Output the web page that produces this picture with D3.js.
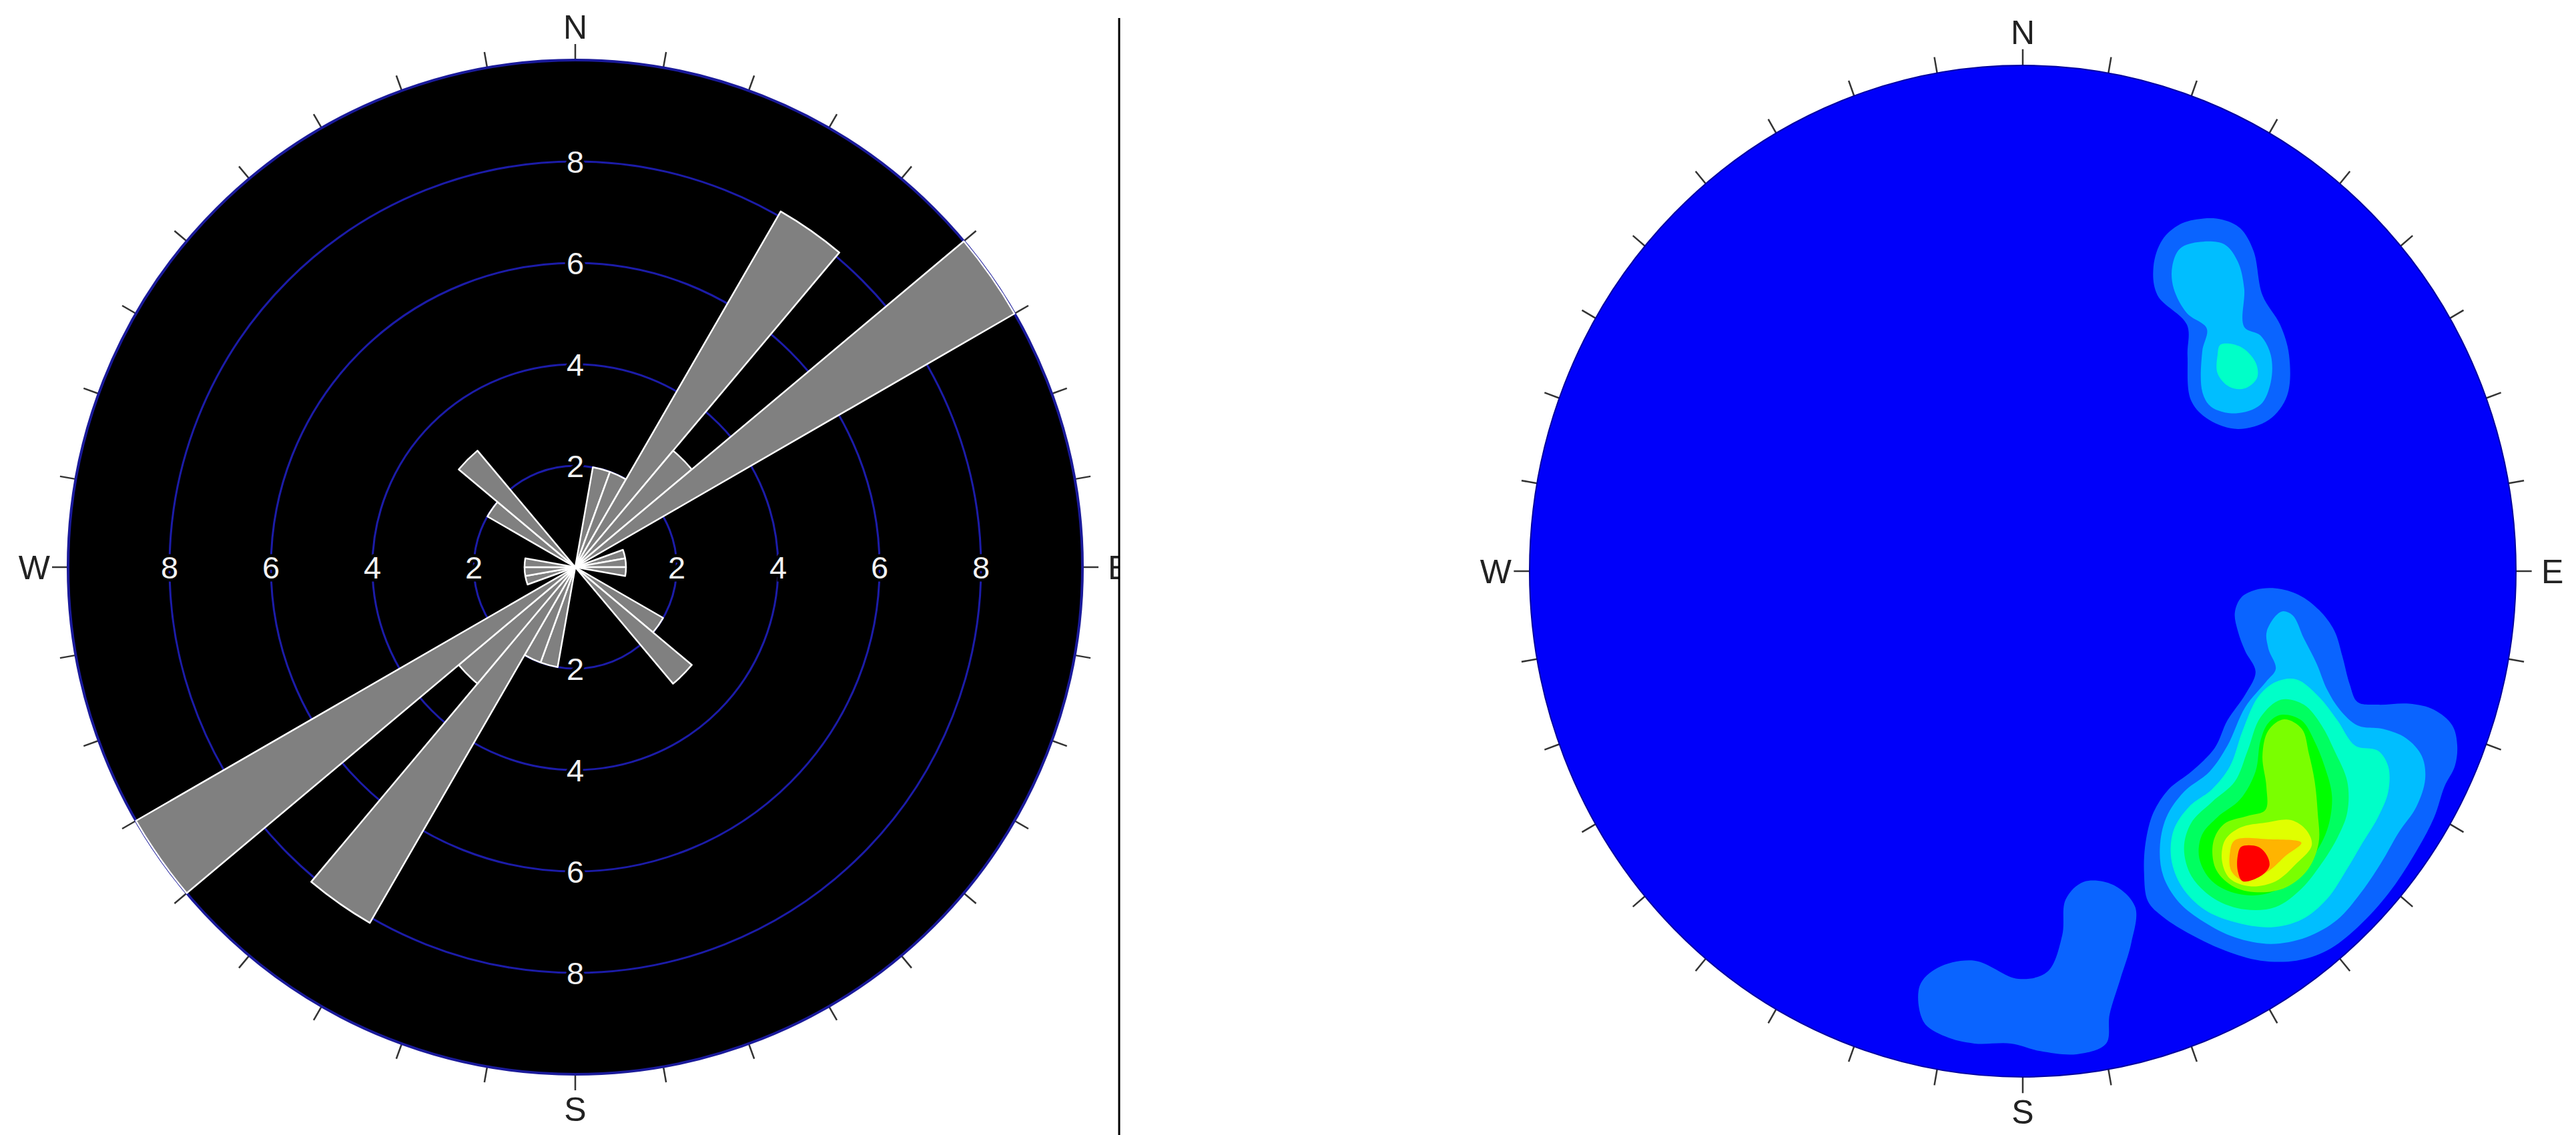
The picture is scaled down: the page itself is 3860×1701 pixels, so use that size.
<!DOCTYPE html>
<html lang="en">
<head>
    <meta charset="UTF-8">
    <title>Rose diagram and pole density</title>
    <script src="https://cdn.jsdelivr.net/npm/d3@7/dist/d3.min.js" type="text/javascript"></script>
    <style>
        body { margin: 0; background: #fff; }
        text { font-family: "Liberation Sans", Arial, sans-serif; }
    </style>
</head>
<body>
<svg id="chart" width="3860" height="1701"></svg>
<script>
    // rose diagram: 10 degree bins, mirrored to the opposite side
    var binStart = [0, 10, 20, 30, 40, 50, 60, 70, 80, 90, 100, 110, 120, 130, 140, 150, 160, 170];
    var binCount = [0, 2, 2, 8.1, 3, 10, 0, 1, 1, 1, 0, 0, 2, 3, 0, 0, 0, 0];
    var ringValues = [2, 4, 6, 8];
    var compassLabels = ["N", "E", "S", "W"];

    // pole density contours, stereonet units (x east, y north, radius 1)
    var densityColors = ["#0A64FF", "#00BEFF", "#00FFC8", "#00FF60", "#00FF00", "#7AFF00", "#E0FF00", "#FFB400", "#FF0000"];
    var northCluster = [
        [1, [[0.364, 0.697], [0.405, 0.695], [0.441, 0.678], [0.468, 0.633], [0.486, 0.546], [0.522, 0.487], [0.540, 0.427], [0.536, 0.347], [0.499, 0.299], [0.436, 0.281], [0.378, 0.299], [0.341, 0.338], [0.334, 0.427], [0.333, 0.487], [0.273, 0.546], [0.265, 0.602], [0.283, 0.655], [0.319, 0.686]]],
        [2, [[0.360, 0.651], [0.409, 0.646], [0.436, 0.612], [0.449, 0.559], [0.449, 0.483], [0.482, 0.466], [0.503, 0.427], [0.503, 0.374], [0.482, 0.329], [0.432, 0.312], [0.382, 0.325], [0.364, 0.355], [0.364, 0.435], [0.373, 0.480], [0.333, 0.510], [0.306, 0.559], [0.303, 0.602], [0.319, 0.638]]],
        [3, [[0.401, 0.448], [0.441, 0.444], [0.472, 0.413], [0.475, 0.382], [0.449, 0.361], [0.418, 0.365], [0.395, 0.391], [0.395, 0.427]]]
    ];
    var southEastCluster = [
        [1, [[0.430, -0.082], [0.443, -0.052], [0.472, -0.037], [0.513, -0.034], [0.560, -0.047], [0.601, -0.077], [0.632, -0.118], [0.648, -0.168], [0.663, -0.224], [0.679, -0.259], [0.720, -0.264], [0.783, -0.262], [0.834, -0.274], [0.871, -0.305], [0.881, -0.345], [0.876, -0.386], [0.855, -0.426], [0.834, -0.487], [0.793, -0.562], [0.741, -0.638], [0.679, -0.704], [0.617, -0.750], [0.555, -0.770], [0.482, -0.770], [0.410, -0.750], [0.342, -0.719], [0.285, -0.684], [0.254, -0.653], [0.246, -0.598], [0.249, -0.537], [0.265, -0.477], [0.296, -0.431], [0.342, -0.396], [0.389, -0.350], [0.415, -0.295], [0.451, -0.244], [0.472, -0.199], [0.451, -0.158], [0.436, -0.118]]],
        [2, [[0.524, -0.080], [0.547, -0.087], [0.570, -0.133], [0.596, -0.183], [0.617, -0.234], [0.643, -0.274], [0.679, -0.305], [0.731, -0.312], [0.777, -0.330], [0.809, -0.365], [0.816, -0.411], [0.798, -0.466], [0.762, -0.517], [0.726, -0.578], [0.684, -0.638], [0.638, -0.689], [0.575, -0.724], [0.503, -0.737], [0.430, -0.724], [0.368, -0.694], [0.316, -0.654], [0.285, -0.603], [0.278, -0.547], [0.291, -0.487], [0.327, -0.436], [0.379, -0.396], [0.415, -0.345], [0.451, -0.269], [0.493, -0.219], [0.513, -0.193], [0.498, -0.153], [0.495, -0.118]]],
        [3, [[0.513, -0.219], [0.555, -0.214], [0.601, -0.249], [0.638, -0.295], [0.674, -0.345], [0.720, -0.355], [0.741, -0.386], [0.741, -0.436], [0.720, -0.487], [0.689, -0.537], [0.658, -0.588], [0.617, -0.648], [0.565, -0.689], [0.503, -0.704], [0.430, -0.694], [0.368, -0.669], [0.322, -0.623], [0.301, -0.568], [0.306, -0.512], [0.337, -0.466], [0.384, -0.431], [0.420, -0.386], [0.446, -0.315], [0.477, -0.249]]],
        [4, [[0.524, -0.254], [0.570, -0.264], [0.606, -0.305], [0.632, -0.355], [0.658, -0.416], [0.658, -0.477], [0.638, -0.527], [0.606, -0.578], [0.565, -0.628], [0.513, -0.664], [0.451, -0.669], [0.389, -0.648], [0.342, -0.603], [0.327, -0.547], [0.342, -0.497], [0.384, -0.456], [0.430, -0.416], [0.456, -0.355], [0.482, -0.289]]],
        [5, [[0.524, -0.284], [0.565, -0.295], [0.591, -0.335], [0.612, -0.386], [0.627, -0.446], [0.617, -0.512], [0.586, -0.568], [0.544, -0.613], [0.493, -0.638], [0.436, -0.638], [0.384, -0.613], [0.358, -0.568], [0.363, -0.522], [0.394, -0.487], [0.441, -0.451], [0.472, -0.396], [0.482, -0.335], [0.498, -0.300]]],
        [6, [[0.530, -0.293], [0.566, -0.312], [0.580, -0.360], [0.592, -0.416], [0.598, -0.477], [0.600, -0.537], [0.578, -0.590], [0.534, -0.625], [0.482, -0.635], [0.430, -0.625], [0.392, -0.590], [0.386, -0.537], [0.408, -0.500], [0.456, -0.484], [0.492, -0.472], [0.494, -0.426], [0.486, -0.365], [0.498, -0.315]]],
        [7, [[0.544, -0.492], [0.575, -0.512], [0.586, -0.542], [0.555, -0.578], [0.513, -0.613], [0.461, -0.623], [0.420, -0.608], [0.404, -0.573], [0.410, -0.532], [0.441, -0.507], [0.493, -0.497]]],
        [8, [[0.430, -0.532], [0.498, -0.530], [0.565, -0.537], [0.534, -0.562], [0.498, -0.593], [0.451, -0.613], [0.423, -0.593], [0.420, -0.557]]],
        [9, [[0.443, -0.545], [0.477, -0.545], [0.495, -0.562], [0.500, -0.583], [0.482, -0.603], [0.446, -0.613], [0.436, -0.593], [0.436, -0.562]]]
    ];
    var southCluster = [
        [1, [[-0.209, -0.820], [-0.172, -0.784], [-0.098, -0.770], [-0.009, -0.806], [0.050, -0.792], [0.080, -0.720], [0.087, -0.649], [0.124, -0.614], [0.183, -0.620], [0.228, -0.664], [0.220, -0.735], [0.198, -0.806], [0.176, -0.877], [0.169, -0.934], [0.110, -0.955], [0.036, -0.949], [-0.024, -0.934], [-0.098, -0.934], [-0.157, -0.920], [-0.201, -0.891]]]
    ];

    var svg = d3.select('#chart');
    var tickBearings = d3.range(0, 360, 10);
    var dividerX = 1677;

    // left plot is cut off at the divider (its E label is half hidden)
    svg.append('clipPath').attr('id', 'leftclip')
        .append('rect')
        .attr('x', 0).attr('y', 0)
        .attr('width', dividerX).attr('height', 1701);

    // ---------- left: rose diagram ----------
    var rose = {cx: 862, cy: 850, R: 760};
    var rScale = d3.scaleLinear().domain([0, 10]).range([0, rose.R]);
    var gRose = svg.append('g')
        .attr('clip-path', 'url(#leftclip)')
        .append('g')
        .attr('transform', 'translate(' + rose.cx + ',' + rose.cy + ')');

    gRose.selectAll('line.tick')
        .data(tickBearings)
        .enter().append('line')
        .attr('class', 'tick')
        .attr('x1', d => Math.sin(d * Math.PI / 180) * (rose.R - 2))
        .attr('y1', d => -Math.cos(d * Math.PI / 180) * (rose.R - 2))
        .attr('x2', d => Math.sin(d * Math.PI / 180) * (rose.R + 24))
        .attr('y2', d => -Math.cos(d * Math.PI / 180) * (rose.R + 24))
        .attr('stroke', '#333')
        .attr('stroke-width', 2.5);

    gRose.append('circle')
        .attr('r', rose.R)
        .attr('fill', '#000')
        .attr('stroke', '#1a1a9a')
        .attr('stroke-width', 4);

    gRose.selectAll('circle.ring')
        .data(ringValues)
        .enter().append('circle')
        .attr('class', 'ring')
        .attr('r', d => rScale(d))
        .attr('fill', 'none')
        .attr('stroke', '#1c1ca8')
        .attr('stroke-width', 3);

    // ring labels in the four directions
    var ringLabelData = [];
    ringValues.forEach(function (v) {
        [0, 90, 180, 270].forEach(function (b) { ringLabelData.push({v: v, b: b}); });
    });
    gRose.selectAll('text.ringlabel')
        .data(ringLabelData)
        .enter().append('text')
        .attr('class', 'ringlabel')
        .attr('x', d => Math.sin(d.b * Math.PI / 180) * rScale(d.v))
        .attr('y', d => -Math.cos(d.b * Math.PI / 180) * rScale(d.v))
        .attr('dy', '0.36em')
        .attr('text-anchor', 'middle')
        .attr('font-size', 47)
        .attr('fill', '#f2f2f2')
        .attr('stroke', '#000')
        .attr('stroke-width', 9)
        .attr('paint-order', 'stroke')
        .text(d => d.v);

    // petals, each bin also drawn on the opposite side
    var petals = [];
    binStart.forEach(function (s, i) {
        if (binCount[i] > 0) {
            petals.push({start: s, value: binCount[i]});
            petals.push({start: s + 180, value: binCount[i]});
        }
    });
    var arc = d3.arc()
        .innerRadius(0)
        .outerRadius(d => rScale(d.value))
        .startAngle(d => d.start * Math.PI / 180)
        .endAngle(d => (d.start + 10) * Math.PI / 180);
    gRose.selectAll('path.petal')
        .data(petals)
        .enter().append('path')
        .attr('class', 'petal')
        .attr('d', arc)
        .attr('fill', '#808080')
        .attr('stroke', '#fff')
        .attr('stroke-width', 2.5)
        .attr('stroke-linejoin', 'round');

    function compass(g, rx, ry) {
        var pos = {
            N: [0, -ry - 32, 'middle'],
            S: [0, ry + 70, 'middle'],
            W: [-rx - 27, 18, 'end'],
            E: [rx + 38, 18, 'start']
        };
        g.selectAll('text.compass')
            .data(compassLabels)
            .enter().append('text')
            .attr('class', 'compass')
            .attr('x', d => pos[d][0])
            .attr('y', d => pos[d][1])
            .attr('text-anchor', d => pos[d][2])
            .attr('font-size', 50)
            .attr('fill', '#222')
            .text(d => d);
    }
    compass(gRose, rose.R, rose.R);

    // divider between the two plots
    svg.append('line')
        .attr('x1', dividerX).attr('x2', dividerX)
        .attr('y1', 27).attr('y2', 1701)
        .attr('stroke', '#000')
        .attr('stroke-width', 3);

    // ---------- right: pole density stereonet ----------
    var xS = d3.scaleLinear().domain([-1, 1]).range([2292, 3770]);
    var yS = d3.scaleLinear().domain([-1, 1]).range([1614, 98]);
    var net = {cx: xS(0), cy: yS(0), rx: xS(1) - xS(0), ry: yS(-1) - yS(0)};
    var gNet = svg.append('g');

    gNet.selectAll('line.tick')
        .data(tickBearings)
        .enter().append('line')
        .attr('class', 'tick')
        .attr('x1', d => xS(Math.sin(d * Math.PI / 180) * 0.995))
        .attr('y1', d => yS(Math.cos(d * Math.PI / 180) * 0.995))
        .attr('x2', d => xS(Math.sin(d * Math.PI / 180) * 1.032))
        .attr('y2', d => yS(Math.cos(d * Math.PI / 180) * 1.032))
        .attr('stroke', '#333')
        .attr('stroke-width', 2.5);

    svg.append('clipPath').attr('id', 'netclip')
        .append('ellipse')
        .attr('cx', net.cx).attr('cy', net.cy)
        .attr('rx', net.rx).attr('ry', net.ry);

    gNet.append('ellipse')
        .attr('cx', net.cx).attr('cy', net.cy)
        .attr('rx', net.rx).attr('ry', net.ry)
        .attr('fill', '#0000FA')
        .attr('stroke', '#0000a0')
        .attr('stroke-width', 2);

    var contourLine = d3.line()
        .x(d => xS(d[0]))
        .y(d => yS(d[1]))
        .curve(d3.curveCatmullRomClosed.alpha(0.5));

    var levels = northCluster.concat(southCluster, southEastCluster)
        .sort((a, b) => a[0] - b[0]);
    gNet.append('g')
        .attr('clip-path', 'url(#netclip)')
        .selectAll('path')
        .data(levels)
        .enter().append('path')
        .attr('d', d => contourLine(d[1]))
        .attr('fill', d => densityColors[d[0] - 1]);

    var gNetLabels = svg.append('g').attr('transform', 'translate(' + net.cx + ',' + net.cy + ')');
    compass(gNetLabels, net.rx, net.ry);
</script>
</body>
</html>
